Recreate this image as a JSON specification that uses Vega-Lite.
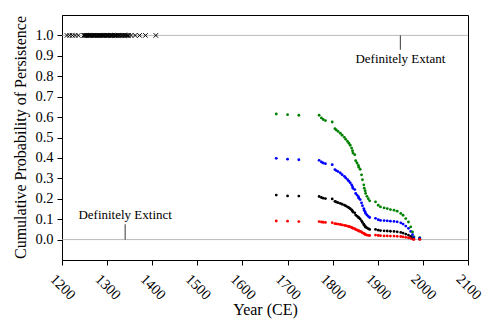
{
  "$schema": "https://vega.github.io/schema/vega-lite/v6.json",
  "width": 406,
  "height": 245,
  "autosize": {"type": "none"},
  "padding": {"left": 62, "top": 15, "right": 32, "bottom": 73},
  "background": "white",
  "config": {
    "view": {"stroke": "black", "strokeWidth": 1},
    "font": "Liberation Serif",
    "text": {"font": "Liberation Serif"},
    "axis": {
      "labelFont": "Liberation Serif",
      "titleFont": "Liberation Serif",
      "labelFontSize": 14.5,
      "titleFontSize": 16,
      "titleFontWeight": "normal",
      "labelColor": "black",
      "titleColor": "black",
      "domainColor": "black",
      "tickColor": "black",
      "tickSize": 5,
      "labelOverlap": false,
      "labelBound": false,
      "grid": false
    }
  },
  "datasets": {
    "cross": [
      {"year": 1211}, {"year": 1217}, {"year": 1223}, {"year": 1229}, {"year": 1236},
      {"year": 1248}, {"year": 1250}, {"year": 1252}, {"year": 1254}, {"year": 1257}, {"year": 1259}, {"year": 1261}, {"year": 1263}, {"year": 1265}, {"year": 1268},
      {"year": 1270}, {"year": 1272}, {"year": 1274}, {"year": 1276}, {"year": 1279}, {"year": 1281}, {"year": 1283}, {"year": 1285}, {"year": 1288}, {"year": 1290},
      {"year": 1292}, {"year": 1294}, {"year": 1297}, {"year": 1299}, {"year": 1301}, {"year": 1303}, {"year": 1306}, {"year": 1308}, {"year": 1310}, {"year": 1312},
      {"year": 1315}, {"year": 1317}, {"year": 1319}, {"year": 1321}, {"year": 1324}, {"year": 1326}, {"year": 1328}, {"year": 1331}, {"year": 1333}, {"year": 1335},
      {"year": 1338}, {"year": 1340}, {"year": 1342}, {"year": 1345}, {"year": 1348},
      {"year": 1353}, {"year": 1362}, {"year": 1372}, {"year": 1385}, {"year": 1408}
    ],
    "series": [
      {"year": 1675, "green": 0.615, "blue": 0.398, "black": 0.218, "red": 0.091},
      {"year": 1700, "green": 0.612, "blue": 0.394, "black": 0.214, "red": 0.090},
      {"year": 1725, "green": 0.609, "blue": 0.391, "black": 0.213, "red": 0.088},
      {"year": 1770, "green": 0.609, "blue": 0.388, "black": 0.211, "red": 0.088},
      {"year": 1775, "green": 0.596, "blue": 0.380, "black": 0.206, "red": 0.086},
      {"year": 1779, "green": 0.588, "blue": 0.375, "black": 0.203, "red": 0.085},
      {"year": 1784, "green": 0.583, "blue": 0.372, "black": 0.201, "red": 0.084},
      {"year": 1799, "green": 0.576, "blue": 0.367, "black": 0.199, "red": 0.083},
      {"year": 1805, "green": 0.543, "blue": 0.343, "black": 0.187, "red": 0.078},
      {"year": 1808, "green": 0.537, "blue": 0.338, "black": 0.184, "red": 0.077},
      {"year": 1812, "green": 0.530, "blue": 0.333, "black": 0.181, "red": 0.076},
      {"year": 1817, "green": 0.521, "blue": 0.326, "black": 0.177, "red": 0.074},
      {"year": 1821, "green": 0.511, "blue": 0.318, "black": 0.173, "red": 0.072},
      {"year": 1826, "green": 0.501, "blue": 0.310, "black": 0.169, "red": 0.070},
      {"year": 1829, "green": 0.491, "blue": 0.302, "black": 0.165, "red": 0.068},
      {"year": 1833, "green": 0.481, "blue": 0.294, "black": 0.160, "red": 0.066},
      {"year": 1836, "green": 0.472, "blue": 0.286, "black": 0.156, "red": 0.064},
      {"year": 1839, "green": 0.462, "blue": 0.278, "black": 0.151, "red": 0.062},
      {"year": 1842, "green": 0.448, "blue": 0.268, "black": 0.145, "red": 0.059},
      {"year": 1844, "green": 0.435, "blue": 0.259, "black": 0.140, "red": 0.057},
      {"year": 1845, "green": 0.424, "blue": 0.251, "black": 0.135, "red": 0.055},
      {"year": 1849, "green": 0.416, "blue": 0.245, "black": 0.131, "red": 0.053},
      {"year": 1851, "green": 0.386, "blue": 0.226, "black": 0.120, "red": 0.049},
      {"year": 1854, "green": 0.375, "blue": 0.218, "black": 0.115, "red": 0.047},
      {"year": 1857, "green": 0.363, "blue": 0.210, "black": 0.110, "red": 0.044},
      {"year": 1858, "green": 0.354, "blue": 0.203, "black": 0.106, "red": 0.042},
      {"year": 1861, "green": 0.344, "blue": 0.196, "black": 0.101, "red": 0.040},
      {"year": 1864, "green": 0.317, "blue": 0.180, "black": 0.092, "red": 0.037},
      {"year": 1866, "green": 0.293, "blue": 0.166, "black": 0.084, "red": 0.033},
      {"year": 1869, "green": 0.268, "blue": 0.152, "black": 0.075, "red": 0.030},
      {"year": 1870, "green": 0.252, "blue": 0.143, "black": 0.070, "red": 0.028},
      {"year": 1872, "green": 0.239, "blue": 0.136, "black": 0.066, "red": 0.026},
      {"year": 1873, "green": 0.226, "blue": 0.128, "black": 0.061, "red": 0.024},
      {"year": 1876, "green": 0.212, "blue": 0.121, "black": 0.057, "red": 0.022},
      {"year": 1879, "green": 0.200, "blue": 0.114, "black": 0.053, "red": 0.021},
      {"year": 1882, "green": 0.190, "blue": 0.108, "black": 0.050, "red": 0.020},
      {"year": 1895, "green": 0.185, "blue": 0.104, "black": 0.050, "red": 0.022},
      {"year": 1901, "green": 0.168, "blue": 0.097, "black": 0.046, "red": 0.020},
      {"year": 1906, "green": 0.160, "blue": 0.094, "black": 0.044, "red": 0.019},
      {"year": 1914, "green": 0.155, "blue": 0.093, "black": 0.043, "red": 0.018},
      {"year": 1921, "green": 0.152, "blue": 0.092, "black": 0.042, "red": 0.018},
      {"year": 1928, "green": 0.147, "blue": 0.090, "black": 0.041, "red": 0.017},
      {"year": 1936, "green": 0.144, "blue": 0.089, "black": 0.040, "red": 0.017},
      {"year": 1943, "green": 0.139, "blue": 0.087, "black": 0.038, "red": 0.016},
      {"year": 1951, "green": 0.128, "blue": 0.082, "black": 0.035, "red": 0.015},
      {"year": 1956, "green": 0.119, "blue": 0.076, "black": 0.032, "red": 0.013},
      {"year": 1962, "green": 0.103, "blue": 0.066, "black": 0.027, "red": 0.011},
      {"year": 1968, "green": 0.086, "blue": 0.055, "black": 0.022, "red": 0.009},
      {"year": 1973, "green": 0.062, "blue": 0.040, "black": 0.015, "red": 0.006},
      {"year": 1977, "green": 0.037, "blue": 0.024, "black": 0.009, "red": 0.003},
      {"year": 1980, "green": 0.013, "blue": 0.009, "black": 0.003, "red": 0.001},
      {"year": 1993, "green": 0.010, "blue": 0.007, "black": 0.002, "red": 0.001}
    ],
    "hlines": [{"p": 0}, {"p": 1}],
    "notes": [
      {"label": "Definitely Extant", "year": 1950, "ptext": 0.885, "p0": 1.0, "p1": 0.93},
      {"label": "Definitely Extinct", "year": 1340, "ptext": 0.12, "p0": 0.0, "p1": 0.075}
    ]
  },
  "layer": [
    {
      "data": {"name": "hlines"},
      "mark": {"type": "rule", "color": "#aaaaaa", "strokeWidth": 0.8},
      "encoding": {
        "y": {"field": "p", "type": "quantitative", "scale": {"domain": [-0.1, 1.1], "nice": false, "zero": false},
          "axis": {"values": [0, 0.1, 0.2, 0.3, 0.4, 0.5, 0.6, 0.7, 0.8, 0.9, 1.0], "format": ".1f", "title": "Cumulative Probability of Persistence",
            "labelOverlap": false, "tickCount": 12,
            "labelPadding": 4, "titleAngle": -90, "titleX": -42, "titleY": 122, "titleAlign": "center", "titleBaseline": "middle"}}
      }
    },
    {
      "data": {"name": "notes"},
      "mark": {"type": "rule", "color": "black", "strokeWidth": 0.8},
      "encoding": {
        "x": {"field": "year", "type": "quantitative"},
        "y": {"field": "p0", "type": "quantitative"},
        "y2": {"field": "p1"}
      }
    },
    {
      "data": {"name": "notes"},
      "mark": {"type": "text", "font": "Liberation Serif", "fontSize": 13, "color": "black", "align": "center", "baseline": "middle"},
      "encoding": {
        "x": {"field": "year", "type": "quantitative"},
        "y": {"field": "ptext", "type": "quantitative"},
        "text": {"field": "label"}
      }
    },
    {
      "data": {"name": "cross"},
      "mark": {"type": "point", "shape": "M-1,-1L1,1M-1,1L1,-1", "filled": false, "stroke": "black", "strokeWidth": 1, "size": 20, "opacity": 1},
      "encoding": {
        "x": {"field": "year", "type": "quantitative",
          "scale": {"domain": [1200, 2100], "nice": false, "zero": false},
          "axis": {"values": [1200, 1300, 1400, 1500, 1600, 1700, 1800, 1900, 2000, 2100], "format": "d", "title": "Year (CE)",
            "labelAngle": 45, "labelAlign": "center", "labelBaseline": "middle", "labelPadding": 22, "titleY": 54, "titleBaseline": "alphabetic"}},
        "y": {"datum": 1.0, "type": "quantitative"}
      }
    },
    {
      "data": {"name": "series"},
      "transform": [{"fold": ["green", "blue", "black", "red"], "as": ["s", "p"]}],
      "mark": {"type": "circle", "size": 8, "opacity": 1},
      "encoding": {
        "x": {"field": "year", "type": "quantitative"},
        "y": {"field": "p", "type": "quantitative"},
        "color": {"field": "s", "type": "nominal", "legend": null,
          "scale": {"domain": ["green", "blue", "black", "red"], "range": ["#008000", "#0000ff", "#000000", "#ff0000"]}}
      }
    }
  ]
}
